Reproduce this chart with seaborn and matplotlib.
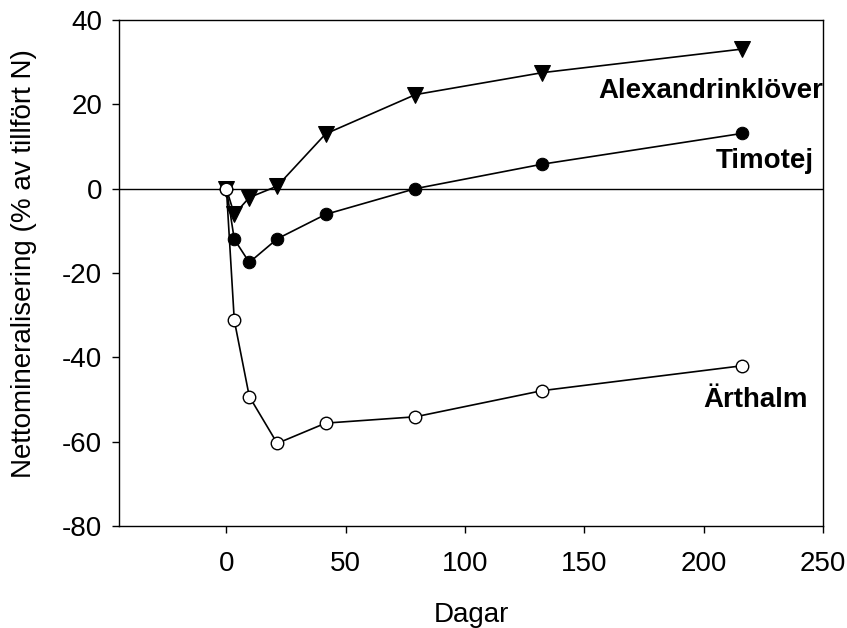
import numpy as np
import pandas as pd
import matplotlib
matplotlib.use('Agg')
import matplotlib.pyplot as plt
import seaborn as sns

# Values
dagar = [0, 3.3, 9.6, 21.3, 41.6, 79.2, 132.3, 216.1]
alexandrinklover = [0, -6.1, -2.1, 0.6, 13.0, 22.3, 27.5, 33.1]
timotej = [0, -12.0, -17.5, -11.9, -6.1, 0.0, 5.8, 13.1]
arthalm = [0, -31.2, -49.3, -60.4, -55.6, -54.1, -47.9, -42.0]

x_ticks = [0, 50, 100, 150, 200, 250]
y_ticks = [-80, -60, -40, -20, 0, 20, 40]

sns.set_style('ticks')
plt.rcParams['font.family'] = ['Liberation Sans', 'DejaVu Sans']
plt.rcParams['axes.unicode_minus'] = False
plt.rcParams['text.color'] = 'black'
plt.rcParams['axes.labelcolor'] = 'black'

fig = plt.figure(figsize=(8.47, 6.28), dpi=100)
ax = fig.add_axes([0.1405, 0.1624, 0.8312, 0.8058])

ax.axhline(0, color='black', lw=1.0, zorder=1)

lw = 1.2
sns.lineplot(x=dagar, y=alexandrinklover, ax=ax, color='black', lw=lw,
             marker='v', markersize=11, markerfacecolor='black',
             markeredgecolor='black', zorder=3)
sns.lineplot(x=dagar, y=timotej, ax=ax, color='black', lw=lw,
             marker='o', markersize=9, markerfacecolor='black',
             markeredgecolor='black', zorder=3)
sns.lineplot(x=dagar, y=arthalm, ax=ax, color='black', lw=lw,
             marker='o', markersize=9, markerfacecolor='white',
             markeredgecolor='black', markeredgewidth=1.0, zorder=4)

# series labels
fs = 20
ax.text(155.8, 21.5, 'Alexandrinklöver', fontsize=fs, fontweight='bold',
        ha='left', va='baseline')
ax.text(205.2, 4.9, 'Timotej', fontsize=fs, fontweight='bold',
        ha='left', va='baseline')
ax.text(199.7, -51.8, 'Ärthalm', fontsize=fs, fontweight='bold',
        ha='left', va='baseline')

ax.set_xlim(-45, 250)
ax.set_ylim(-80, 40)
ax.set_xticks(x_ticks)
ax.set_yticks(y_ticks)
ax.tick_params(axis='both', direction='out', length=5, width=1.0,
               labelsize=fs, colors='black')
ax.tick_params(axis='x', pad=13)
ax.tick_params(axis='y', pad=7)

for side in ['top', 'right', 'left', 'bottom']:
    ax.spines[side].set_visible(True)
    ax.spines[side].set_linewidth(1.0)
    ax.spines[side].set_color('black')

ax.set_xlabel('Dagar', fontsize=fs, labelpad=18)
ax.set_ylabel('Nettomineralisering (% av tillfört N)', fontsize=fs)
ax.yaxis.set_label_coords(-0.116, 0.519)

fig.savefig('out.png', dpi=100)
